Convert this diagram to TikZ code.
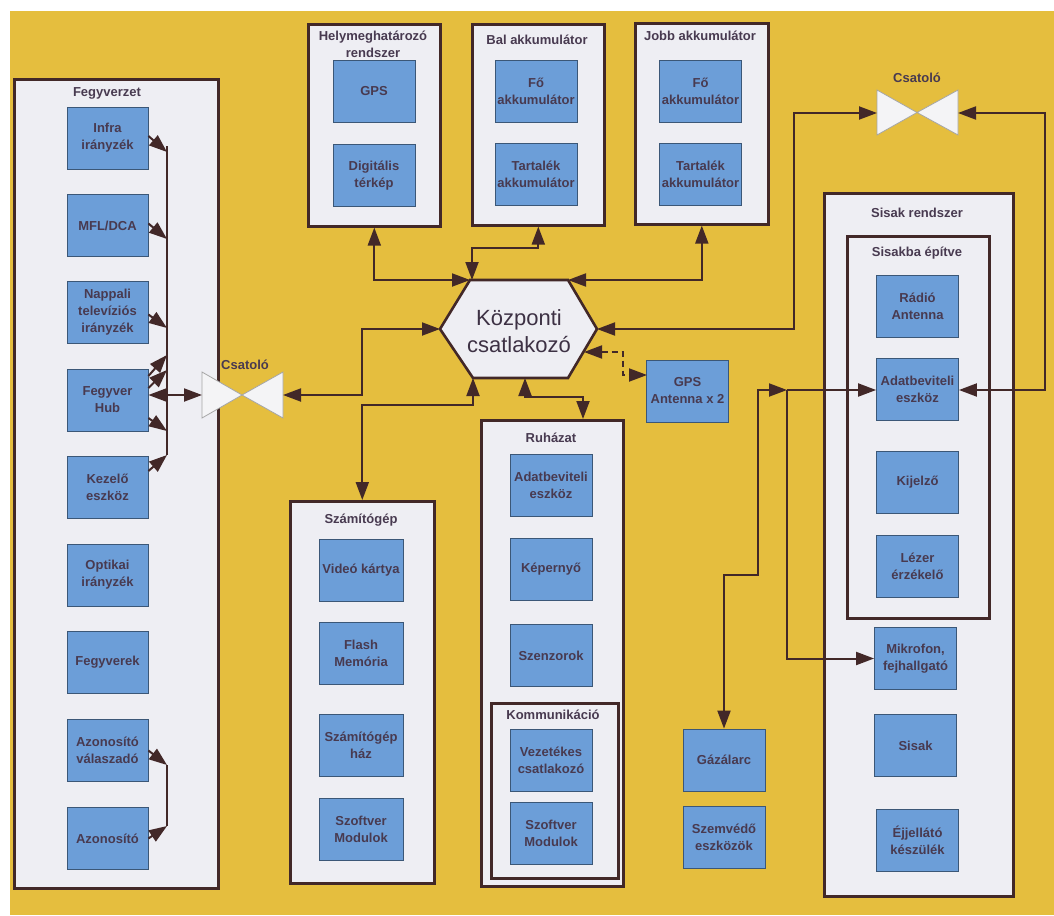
\documentclass[tikz,border=0pt]{standalone}
\usepackage{fontspec}
\setmainfont{Liberation Sans}
\usetikzlibrary{arrows.meta,calc}
\definecolor{bgy}{RGB}{229,190,62}
\definecolor{bluebox}{RGB}{108,158,216}
\definecolor{panelfill}{RGB}{238,238,243}
\definecolor{edge}{RGB}{66,40,40}
\definecolor{txt}{RGB}{72,58,80}
\definecolor{bowfill}{RGB}{244,244,246}
\begin{document}
\begin{tikzpicture}[x=1pt,y=-1pt,
  tri/.style={-{Triangle[length=18pt,width=13pt]}},
  tritri/.style={{Triangle[length=18pt,width=13pt]}-{Triangle[length=18pt,width=13pt]}},
  bbox/.style={draw=bluebox!55!black,line width=0.8pt,fill=bluebox,minimum width=82pt,minimum height=62pt,inner sep=0pt,align=center,font=\bfseries\fontsize{13}{17}\selectfont,text=txt},
  panel/.style={draw=edge,line width=2.6pt,fill=panelfill,anchor=north west,inner sep=0pt},
  ttl/.style={font=\bfseries\fontsize{13}{17}\selectfont,text=txt,align=center,inner sep=0pt},
  conn/.style={draw=edge,line width=2pt},
  bow/.style={draw=gray!70,line width=0.8pt,fill=bowfill},
  hexs/.style={draw=edge,line width=2.6pt,fill=panelfill}]
\useasboundingbox (0,0) rectangle (1054,915);
\fill[white] (0,0) rectangle (1054,915);
\fill[bgy] (10,11) rectangle (1054,915);

% ---------- panels ----------
\node[panel,minimum width=204pt,minimum height=809pt] (fegy) at (13,78) {};
\node[panel,minimum width=132pt,minimum height=202pt] (helym) at (307,23) {};
\node[panel,minimum width=132pt,minimum height=201pt] (bal) at (471,23) {};
\node[panel,minimum width=133pt,minimum height=201pt] (jobb) at (634,22) {};
\node[panel,minimum width=144pt,minimum height=382pt] (szam) at (289,500) {};
\node[panel,minimum width=142pt,minimum height=466pt] (ruh) at (480,419) {};
\node[panel,minimum width=127pt,minimum height=175pt] (komm) at (490,702) {};
\node[panel,minimum width=189pt,minimum height=703pt] (sisr) at (823,192) {};
\node[panel,minimum width=142pt,minimum height=382pt] (sisb) at (846,235) {};

% ---------- titles ----------
\node[ttl] (tFegy) at (107,93) {Fegyverzet};
\node[ttl] (tHely) at (373,44) {Helymeghatározó\\rendszer};
\node[ttl] (tBal) at (537,40) {Bal akkumulátor};
\node[ttl] (tJobb) at (700,36) {Jobb akkumulátor};
\node[ttl] (tSzam) at (361,520) {Számítógép};
\node[ttl] (tRuh) at (551,438) {Ruházat};
\node[ttl] (tKomm) at (553,715) {Kommunikáció};
\node[ttl] (tSisr) at (917,213) {Sisak rendszer};
\node[ttl] (tSisb) at (917,253) {Sisakba építve};

% ---------- Fegyverzet boxes ----------
\node[bbox,minimum width=81pt] (infra) at (107.5,138) {Infra\\irányzék};
\node[bbox,minimum width=81pt] (mfl) at (107.5,225.5) {MFL/DCA};
\node[bbox,minimum width=81pt] (nappali) at (107.5,312.5) {Nappali\\televíziós\\irányzék};
\node[bbox,minimum width=81pt] (fhub) at (107.5,400) {Fegyver\\Hub};
\node[bbox,minimum width=81pt] (kezelo) at (107.5,487) {Kezelő\\eszköz};
\node[bbox,minimum width=81pt] (optikai) at (107.5,575) {Optikai\\irányzék};
\node[bbox,minimum width=81pt] (fegyverek) at (107.5,662) {Fegyverek};
\node[bbox,minimum width=81pt] (azval) at (107.5,750.5) {Azonosító\\válaszadó};
\node[bbox,minimum width=81pt] (azon) at (107.5,838.5) {Azonosító};

% ---------- top boxes ----------
\node[bbox] (gps) at (374,91.5) {GPS};
\node[bbox] (dterk) at (374,175.5) {Digitális\\térkép};
\node[bbox] (bfo) at (536,91) {Fő\\akkumulátor};
\node[bbox] (btart) at (536,174.5) {Tartalék\\akkumulátor};
\node[bbox] (jfo) at (700.5,91) {Fő\\akkumulátor};
\node[bbox] (jtart) at (700.5,174.5) {Tartalék\\akkumulátor};

% ---------- Számítógép ----------
\node[bbox,minimum width=84pt] (video) at (361,570.5) {Videó kártya};
\node[bbox,minimum width=84pt] (flash) at (361,653.5) {Flash\\Memória};
\node[bbox,minimum width=84pt] (haz) at (361,745) {Számítógép\\ház};
\node[bbox,minimum width=84pt] (szoft1) at (361,829.5) {Szoftver\\Modulok};

% ---------- Ruházat ----------
\node[bbox] (adat1) at (551,485.5) {Adatbeviteli\\eszköz};
\node[bbox] (kep) at (551,569.5) {Képernyő};
\node[bbox] (szenz) at (551,655.5) {Szenzorok};
\node[bbox] (vezet) at (551,760) {Vezetékes\\csatlakozó};
\node[bbox] (szoft2) at (551,833.5) {Szoftver\\Modulok};

% ---------- Sisak ----------
\node[bbox] (radio) at (917.5,306) {Rádió\\Antenna};
\node[bbox] (adat2) at (917.5,389.5) {Adatbeviteli\\eszköz};
\node[bbox] (kij) at (917.5,482.5) {Kijelző};
\node[bbox] (lezer) at (917.5,566) {Lézer\\érzékelő};
\node[bbox] (mik) at (915.5,658.5) {Mikrofon,\\fejhallgató};
\node[bbox] (sisak) at (915.5,745.5) {Sisak};
\node[bbox] (ejj) at (917.5,840.5) {Éjjellátó\\készülék};

% ---------- loose boxes ----------
\node[bbox] (gpsant) at (687.5,391) {GPS\\Antenna x 2};
\node[bbox] (gaz) at (724,760) {Gázálarc};
\node[bbox] (szem) at (724,837.5) {Szemvédő\\eszközök};

% ---------- central hexagon ----------
\draw[hexs] (440,329) -- (470,280) -- (568,280) -- (597,329) -- (568,378) -- (473,378) -- cycle;
\node[font=\fontsize{22}{27}\selectfont,text=txt!85!black,align=center] (kozp) at (519,331) {Központi\\csatlakozó};
\coordinate (hexTL) at (470,280);
\coordinate (hexTR) at (568,280);
\coordinate (hexL) at (440,329);
\coordinate (hexR) at (597,329);
\coordinate (hexB1) at (473,378);
\coordinate (hexB2) at (525,378);
\coordinate (hexGP) at (584,352);

% ---------- couplers ----------
\draw[bow] (202,372) -- (242,395) -- (202,418) -- cycle;
\draw[bow] (283,372) -- (242,395) -- (283,418) -- cycle;
\coordinate (cs1L) at (202,395);
\coordinate (cs1R) at (283,395);
\node[ttl] (tCs1) at (245,365) {Csatoló};
\draw[bow] (877,90) -- (917,112.5) -- (877,135) -- cycle;
\draw[bow] (958,90) -- (917,112.5) -- (958,135) -- cycle;
\coordinate (cs2L) at (877,113);
\coordinate (cs2R) at (958,113);
\node[ttl] (tCs2) at (917,78) {Csatoló};

% ---------- connectors: top ----------
\draw[conn,tritri] (helym.south) |- (hexTL);
\coordinate (balK) at (472,248);
\draw[conn,tritri] (bal.south) |- (balK) -- (balK |- hexTL);
\draw[conn,tritri] (jobb.south) |- (hexTR);

% ---------- connectors: left ----------
\coordinate (w1) at (362,395);
\draw[conn,tritri] (cs1R) -- (w1) |- (hexL);
\draw[conn,tritri] (fhub.east |- cs1L) -- (cs1L);

% bus
\coordinate (bi) at (167,152);
\coordinate (bm) at (167,239);
\coordinate (bn) at (167,328);
\coordinate (bh1) at (167,355);
\coordinate (bh2) at (167,370);
\coordinate (bh3) at (167,431);
\coordinate (bk) at (167,455);
\draw[conn] (167,146) -- (bk);
\draw[conn,tri] ($(infra.east)+(0,-2)$) -- (bi);
\draw[conn,tri] ($(mfl.east)+(0,-2)$) -- (bm);
\draw[conn,tri] ($(nappali.east)+(0,2)$) -- (bn);
\draw[conn,tri] ($(fhub.east)+(0,-24)$) -- (bh1);
\draw[conn,tri] ($(fhub.east)+(0,-12)$) -- (bh2);
\draw[conn,tri] ($(fhub.east)+(0,18)$) -- (bh3);
\draw[conn,tri] ($(kezelo.east)+(0,-16)$) -- (bk);
\coordinate (bav) at (167,765);
\coordinate (baz) at (167,826);
\draw[conn] (bav) -- (baz);
\draw[conn,tri] (azval.east) -- (bav);
\draw[conn,tri] (azon.east) -- (baz);

% ---------- connectors: right ----------
\coordinate (w2) at (794,329);
\draw[conn,tritri] (hexR) -- (w2) |- (cs2L);
\coordinate (w3) at (1045,390);
\draw[conn,tritri] (cs2R) -| (w3) -- (adat2.east |- w3);
\coordinate (g1) at (623,352);
\coordinate (gaIn) at (647,375);
\draw[conn,dash pattern=on 6pt off 4pt,tritri] (hexGP) -- (g1) |- (gaIn);

% ---------- connectors: bottom of hexagon ----------
\coordinate (k1) at (473,405);
\draw[conn,tritri] (hexB1) -- (k1) -| (szam.north);
\coordinate (r1) at (525,397);
\coordinate (r2) at (583,397);
\draw[conn,tritri] (hexB2) -- (r1) -- (r2) -- (r2 |- ruh.north);

% ---------- helmet connectors ----------
\coordinate (hj) at (787,390);
\draw[conn,tri] (hj) -- (adat2.west |- hj);
\coordinate (gz2) at (758,575);
\coordinate (gz3) at (758,390);
\draw[conn,tritri] (gaz.north) |- (gz2) -- (gz3) -- (hj);
\draw[conn,tri] (hj) |- (mik.west);
\end{tikzpicture}
\end{document}
